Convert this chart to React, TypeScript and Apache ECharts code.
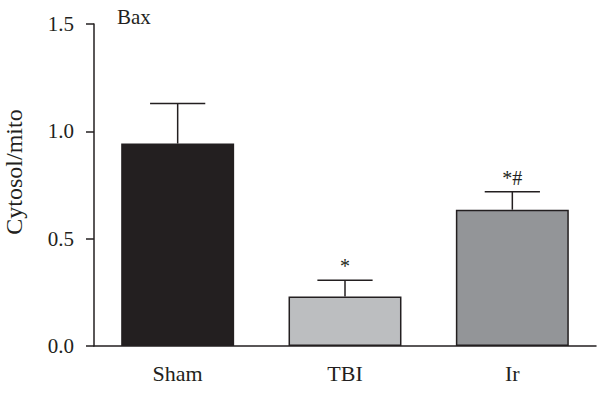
import React, { useEffect, useRef } from "react";
import * as echarts from "echarts";

const categories = ["Sham", "TBI", "Ir"];
const means = [0.943, 0.231, 0.635];
const errors = [0.187, 0.075, 0.084];
const marks = ["", "*", "*#"];
const barColors = ["#231f20", "#bcbec0", "#939598"];
const yTicks = [0, 0.5, 1.0, 1.5];

const FONT = "'Liberation Serif', 'DejaVu Serif', serif";
const INK = "#231f20";

export default function App() {
  const ref = useRef<HTMLDivElement>(null);
  useEffect(() => {
    if (!ref.current) return;
    const chart = echarts.init(ref.current, undefined, { renderer: "svg" });
    chart.setOption({
      animation: false,
      backgroundColor: "#ffffff",
      grid: { left: 94, right: 4, top: 24, bottom: 48 },
      title: {
        text: "Bax",
        left: 112,
        top: 1,
        textStyle: { fontFamily: FONT, fontSize: 21, fontWeight: "normal", color: INK },
      },
      graphic: [
        {
          type: "text",
          x: 14,
          y: 172,
          rotation: Math.PI / 2,
          style: {
            text: "Cytosol/mito",
            fontFamily: FONT,
            fontSize: 24,
            fill: INK,
            align: "center",
            verticalAlign: "middle",
          },
        },
      ],
      xAxis: {
        type: "category",
        data: categories,
        axisLine: { lineStyle: { color: INK, width: 1.5 } },
        axisTick: { alignWithLabel: true, length: 6, lineStyle: { color: INK, width: 1.5 } },
        axisLabel: { fontFamily: FONT, fontSize: 22, color: INK, margin: 16 },
      },
      yAxis: {
        type: "value",
        min: yTicks[0],
        max: yTicks[yTicks.length - 1],
        interval: 0.5,
        splitLine: { show: false },
        axisLine: { show: true, lineStyle: { color: INK, width: 1.5 } },
        axisTick: { show: true, length: 8, lineStyle: { color: INK, width: 1.5 } },
        axisLabel: {
          fontFamily: FONT,
          fontSize: 21,
          color: INK,
          margin: 20,
          formatter: (v: number) => v.toFixed(1),
        },
      },
      series: [
        {
          type: "bar",
          barWidth: "67.5%",
          data: means.map((m, i) => ({
            value: m,
            itemStyle: { color: barColors[i], borderColor: INK, borderWidth: 1.5 },
          })),
          z: 2,
        },
        {
          type: "custom",
          z: 3,
          data: means.map((m, i) => [i, m, errors[i]]),
          renderItem: (params: any, api: any) => {
            const idx = api.value(0);
            const m = api.value(1);
            const e = api.value(2);
            const base = api.coord([idx, m]);
            const top = api.coord([idx, m + e]);
            const band = api.size([1, 0])[0];
            const half = band * 0.165;
            const style = { stroke: INK, lineWidth: 1.5 };
            const children: any[] = [
              { type: "line", shape: { x1: base[0], y1: base[1], x2: top[0], y2: top[1] }, style },
              { type: "line", shape: { x1: top[0] - half, y1: top[1], x2: top[0] + half, y2: top[1] }, style },
            ];
            const mk = marks[params.dataIndex];
            if (mk) {
              children.push({
                type: "text",
                x: top[0],
                y: top[1] - 4,
                style: {
                  text: mk,
                  fontFamily: FONT,
                  fontSize: 20,
                  fill: INK,
                  align: "center",
                  verticalAlign: "bottom",
                },
              });
            }
            return { type: "group", children };
          },
        },
      ],
    });
    return () => chart.dispose();
  }, []);
  return (
    <div
      ref={ref}
      style={{ position: "fixed", left: 0, top: 0, width: 600, height: 394, background: "#fff" }}
    />
  );
}
